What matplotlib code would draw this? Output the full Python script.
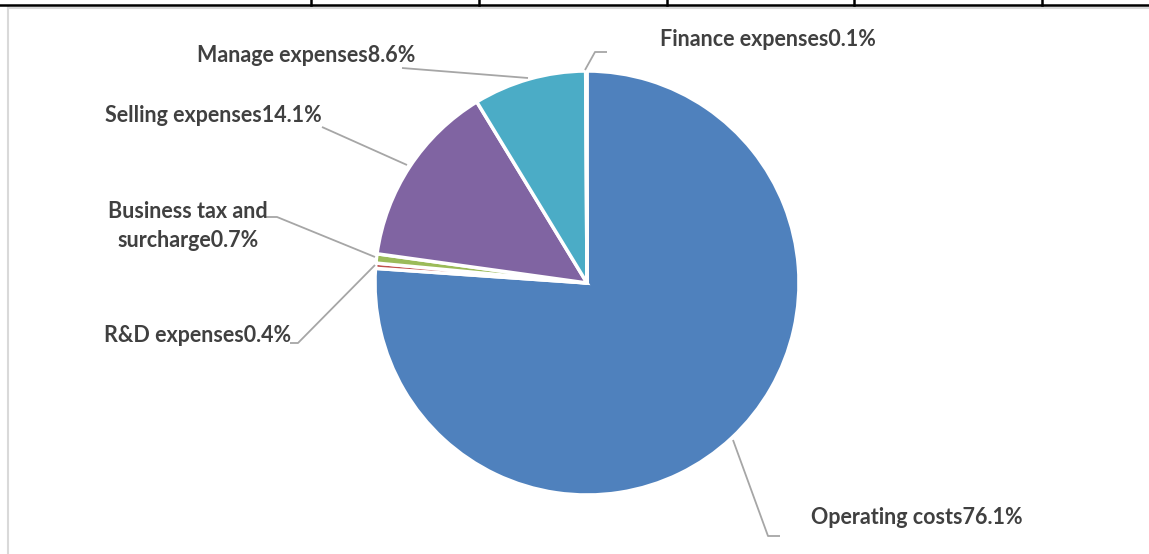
import matplotlib
matplotlib.use("Agg")
import matplotlib.pyplot as plt

categories = ["Operating costs", "R&D expenses", "Business tax and\nsurcharge",
              "Selling expenses", "Manage expenses", "Finance expenses"]
values = [76.1, 0.4, 0.7, 14.1, 8.6, 0.1]
colors = ["#4F81BD", "#C0504D", "#9BBB59", "#8064A2", "#4BACC6", "#F79646"]

W, H = 1149, 554
fig = plt.figure(figsize=(W / 100, H / 100), dpi=100)
ax = fig.add_axes([0, 0, 1, 1])

def Y(y):
    return H - y

cx, cy, r = 587, Y(283), 212
ax.pie(values, colors=colors, startangle=90, counterclock=False,
       center=(cx, cy), radius=r,
       wedgeprops=dict(edgecolor="white", linewidth=2.5))
ax.set_xlim(0, W)
ax.set_ylim(0, H)
ax.set_aspect("auto")
ax.axis("off")

lc = "#A6A6A6"
tc = "#404040"
font = dict(family=["Lato", "DejaVu Sans"], fontsize=15.5, fontweight="bold", color=tc)

def leader(pts):
    xs = [p[0] for p in pts]
    ys = [Y(p[1]) for p in pts]
    ax.plot(xs, ys, color=lc, lw=1.3, solid_capstyle="butt", zorder=1)

labels = [f"{c}{v}%" for c, v in zip(categories, values)]

# Operating costs
leader([(733, 440), (768, 536), (780, 536)])
ax.text(811, Y(518), labels[0], ha="left", va="center", **font)
# R&D
leader([(290, 343), (298, 343), (375, 265)])
ax.text(291, Y(335), labels[1], ha="right", va="center", **font)
# Business tax
leader([(265, 217), (277, 217), (375, 257)])
ax.text(188, Y(226), labels[2], ha="center", va="center", linespacing=1.5, **font)
# Selling
leader([(322, 127), (407, 165)])
ax.text(322, Y(115), labels[3], ha="right", va="center", **font)
# Manage
leader([(402, 68), (528, 78)])
ax.text(415, Y(56), labels[4], ha="right", va="center", **font)
# Finance
leader([(585, 70), (595, 52), (607, 52)])
ax.text(660, Y(39), labels[5], ha="left", va="center", **font)

# surrounding frame / table remnants
ax.plot([8, 8], [Y(7), 0], color="#D9D9D9", lw=1.5)
ax.plot([8, W], [Y(7.5), Y(7.5)], color="#D9D9D9", lw=1.5)
ax.plot([0, W], [Y(5), Y(5)], color="black", lw=1.8)
for xv in [311, 479, 667, 854, 1042]:
    ax.plot([xv, xv], [Y(0), Y(5)], color="black", lw=1.8)

fig.savefig("out.png", dpi=100)
